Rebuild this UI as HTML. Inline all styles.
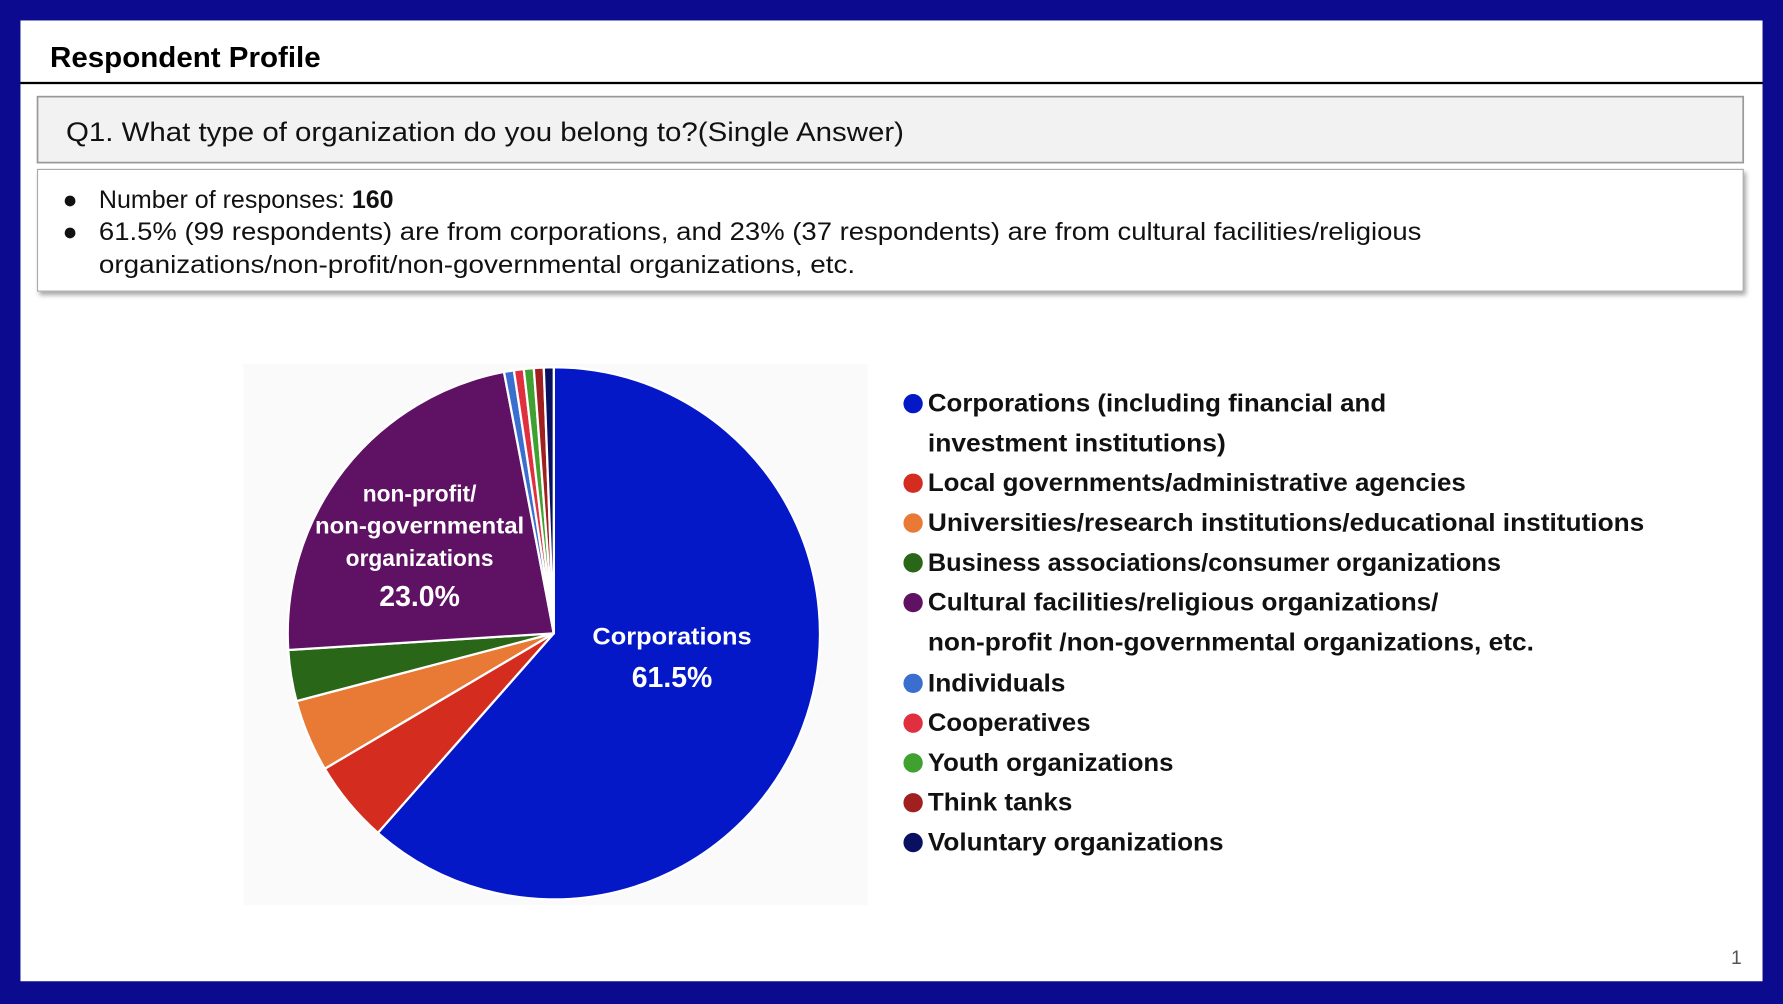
<!DOCTYPE html>
<html><head><meta charset="utf-8"><style>html,body{margin:0;padding:0;background:#0c0a8e;}svg{display:block}</style></head>
<body>
<svg width="1783" height="1004" viewBox="0 0 1568 883" preserveAspectRatio="none" xmlns="http://www.w3.org/2000/svg" font-family="'Liberation Sans', sans-serif">
<defs><filter id="sh" x="-5%" y="-20%" width="110%" height="150%"><feDropShadow dx="2" dy="3" stdDeviation="2" flood-color="#000" flood-opacity="0.35"/></filter></defs>
<rect x="0" y="0" width="1568" height="883" fill="#0c0a8e"/>
<rect x="18" y="18" width="1532" height="845" fill="#fff"/>
<text x="44" y="59" font-size="25" font-weight="bold" fill="#000" textLength="238" lengthAdjust="spacingAndGlyphs">Respondent Profile</text>
<rect x="18" y="72" width="1532" height="2" fill="#000"/>
<rect x="33" y="85" width="1500" height="58" fill="#f2f2f2" stroke="#999" stroke-width="1.5"/>
<text x="58" y="124" font-size="24" fill="#111" textLength="737" lengthAdjust="spacingAndGlyphs">Q1. What type of organization do you belong to?(Single Answer)</text>
<rect x="33" y="149" width="1500" height="107" fill="#fff" stroke="#aaa" stroke-width="1" filter="url(#sh)"/>
<g font-size="22" fill="#111">
<text x="55" y="183">●</text>
<text x="87" y="183">Number of responses: <tspan font-weight="bold">160</tspan></text>
<text x="55" y="211">●</text>
<text x="87" y="211" textLength="1163" lengthAdjust="spacingAndGlyphs">61.5% (99 respondents) are from corporations,  and 23% (37 respondents) are from cultural facilities/religious</text>
<text x="87" y="240" textLength="665" lengthAdjust="spacingAndGlyphs">organizations/non-profit/non-governmental organizations, etc.</text>
</g>
<rect x="214" y="320" width="549" height="476" fill="#fafafa"/>
<g stroke="#fff" stroke-width="2" stroke-linejoin="round">
<path d="M487 557 L487 323 A234 234 0 1 1 332.3 732.5 Z" fill="#0418c8"/>
<path d="M487 557 L332.3 732.5 A234 234 0 0 1 285.6 676.1 Z" fill="#d42c1e"/>
<path d="M487 557 L285.6 676.1 A234 234 0 0 1 260.7 616.6 Z" fill="#e87a35"/>
<path d="M487 557 L260.7 616.6 A234 234 0 0 1 253.5 571.7 Z" fill="#2a6618"/>
<path d="M487 557 L253.5 571.7 A234 234 0 0 1 443.2 327.1 Z" fill="#5f1163"/>
<path d="M487 557 L443.2 327.1 A234 234 0 0 1 451.9 325.7 Z" fill="#3a6fd0"/>
<path d="M487 557 L451.9 325.7 A234 234 0 0 1 460.6 324.5 Z" fill="#e03040"/>
<path d="M487 557 L460.6 324.5 A234 234 0 0 1 469.4 323.7 Z" fill="#40a030"/>
<path d="M487 557 L469.4 323.7 A234 234 0 0 1 478.2 323.2 Z" fill="#a02020"/>
<path d="M487 557 L478.2 323.2 A234 234 0 0 1 487 323 Z" fill="#0a1060"/>
</g>
<g fill="#fff" font-weight="bold" text-anchor="middle">
<text x="369" y="441" font-size="20">non-profit/</text>
<text x="369" y="469" font-size="20" textLength="184" lengthAdjust="spacingAndGlyphs">non-governmental</text>
<text x="369" y="498" font-size="20">organizations</text>
<text x="369" y="533" font-size="25">23.0%</text>
<text x="591" y="567" font-size="21" textLength="140" lengthAdjust="spacingAndGlyphs">Corporations</text>
<text x="591" y="604" font-size="25">61.5%</text>
</g>
<g font-size="22" font-weight="bold" fill="#111">
<circle cx="803" cy="355" r="8.5" fill="#0418c8"/>
<text x="816" y="362" textLength="403" lengthAdjust="spacingAndGlyphs">Corporations (including financial and</text>
<text x="816" y="397" textLength="262" lengthAdjust="spacingAndGlyphs">investment institutions)</text>
<circle cx="803" cy="425" r="8.5" fill="#d42c1e"/>
<text x="816" y="432" textLength="473" lengthAdjust="spacingAndGlyphs">Local governments/administrative agencies</text>
<circle cx="803" cy="460" r="8.5" fill="#e87a35"/>
<text x="816" y="467" textLength="630" lengthAdjust="spacingAndGlyphs">Universities/research institutions/educational institutions</text>
<circle cx="803" cy="495" r="8.5" fill="#2a6618"/>
<text x="816" y="502" textLength="504" lengthAdjust="spacingAndGlyphs">Business associations/consumer organizations</text>
<circle cx="803" cy="530" r="8.5" fill="#5f1163"/>
<text x="816" y="537" textLength="449" lengthAdjust="spacingAndGlyphs">Cultural facilities/religious organizations/</text>
<text x="816" y="572" textLength="533" lengthAdjust="spacingAndGlyphs">non-profit /non-governmental organizations, etc.</text>
<circle cx="803" cy="601" r="8.5" fill="#3a6fd0"/>
<text x="816" y="608" textLength="121" lengthAdjust="spacingAndGlyphs">Individuals</text>
<circle cx="803" cy="636" r="8.5" fill="#e03040"/>
<text x="816" y="643" textLength="143" lengthAdjust="spacingAndGlyphs">Cooperatives</text>
<circle cx="803" cy="671" r="8.5" fill="#40a030"/>
<text x="816" y="678" textLength="216" lengthAdjust="spacingAndGlyphs">Youth organizations</text>
<circle cx="803" cy="706" r="8.5" fill="#a02020"/>
<text x="816" y="713" textLength="127" lengthAdjust="spacingAndGlyphs">Think tanks</text>
<circle cx="803" cy="741" r="8.5" fill="#0a1060"/>
<text x="816" y="748" textLength="260" lengthAdjust="spacingAndGlyphs">Voluntary organizations</text>
</g>
<text x="1527" y="848" font-size="17" fill="#555" text-anchor="middle">1</text>
</svg>
</body></html>
